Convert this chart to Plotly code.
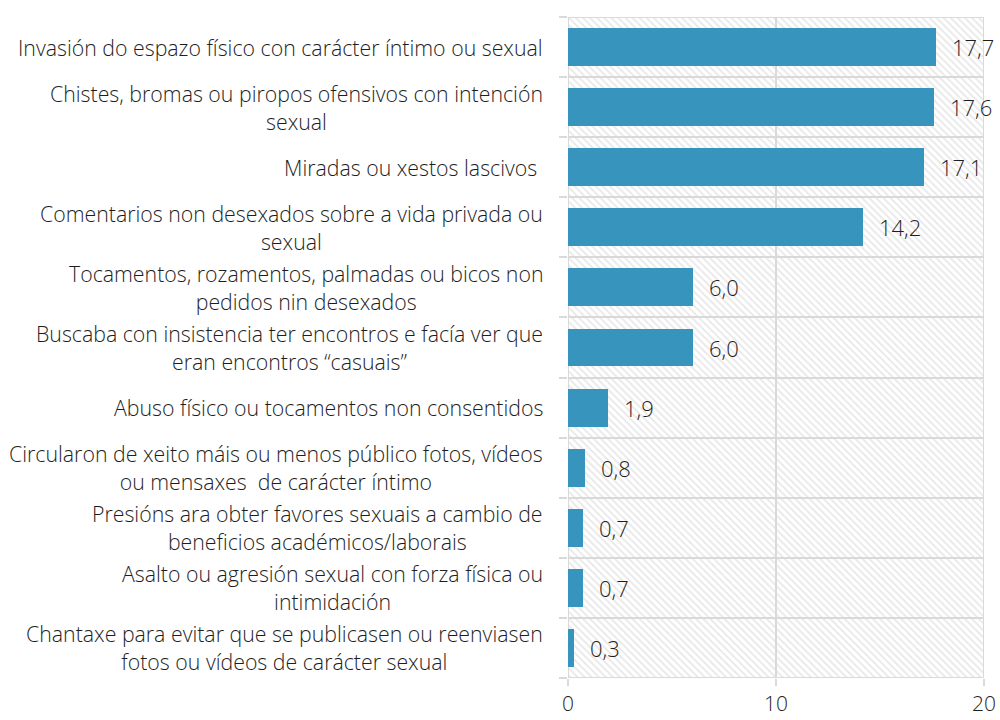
import plotly.graph_objects as go

categories = [
    "Invasión do espazo físico con carácter íntimo ou sexual",
    "Chistes, bromas ou piropos ofensivos con intención<br>sexual",
    "Miradas ou xestos lascivos ",
    "Comentarios non desexados sobre a vida privada ou<br>sexual",
    "Tocamentos, rozamentos, palmadas ou bicos non<br>pedidos nin desexados",
    "Buscaba con insistencia ter encontros e facía ver que<br>eran encontros “casuais”",
    "Abuso físico ou tocamentos non consentidos",
    "Circularon de xeito máis ou menos público fotos, vídeos<br>ou mensaxes  de carácter íntimo",
    "Presións ara obter favores sexuais a cambio de<br>beneficios académicos/laborais",
    "Asalto ou agresión sexual con forza física ou<br>intimidación",
    "Chantaxe para evitar que se publicasen ou reenviasen<br>fotos ou vídeos de carácter sexual",
]
values = [17.7, 17.6, 17.1, 14.2, 6.0, 6.0, 1.9, 0.8, 0.7, 0.7, 0.3]
value_labels = ["17,7", "17,6", "17,1", "14,2", "6,0", "6,0", "1,9", "0,8", "0,7", "0,7", "0,3"]
x_ticks = [0, 10, 20]

n = len(categories)
ypos = list(range(n))
grid_color = "#d9d9d9"
bar_color = "#3795bd"
font_fam = "'Open Sans', sans-serif"
text_color = "#1e1e1e"

fig = go.Figure()

# hatched background cells (grid formed by cell borders)
for i in range(len(x_ticks) - 1):
    lo, hi = x_ticks[i], x_ticks[i + 1]
    fig.add_trace(go.Bar(
        y=ypos, x=[hi - lo] * n, base=[lo] * n, orientation="h", width=1,
        marker=dict(color="white",
                    line=dict(color=grid_color, width=2),
                    pattern=dict(shape="\\", fgcolor="#d2d2d2", bgcolor="white",
                                 size=5, solidity=0.35)),
        hoverinfo="skip", showlegend=False,
    ))

fig.add_trace(go.Bar(
    y=ypos, x=values, orientation="h", width=0.63,
    marker=dict(color=bar_color, line=dict(width=0)),
    showlegend=False,
))

annotations = []
for i, (v, t) in enumerate(zip(values, value_labels)):
    annotations.append(dict(x=v, y=i, xref="x", yref="y", text=t, showarrow=False,
                            xanchor="left", yanchor="middle", xshift=14,
                            font=dict(size=22, color=text_color, family=font_fam, weight=300)))
for i, c in enumerate(categories):
    annotations.append(dict(x=-0.055, y=i, xref="paper", yref="y", text=c, showarrow=False,
                            xanchor="right", yanchor="middle", align="center",
                            font=dict(size=21.3, color=text_color, family=font_fam, weight=300)))

fig.update_layout(
    width=1000, height=720,
    margin=dict(l=568, r=16, t=17, b=42),
    barmode="overlay", bargap=0,
    plot_bgcolor="white", paper_bgcolor="white",
    separators=",.",
    annotations=annotations,
    xaxis=dict(range=[0, 20], tickvals=x_ticks, showgrid=False, zeroline=False,
               ticks="outside", ticklen=7, tickcolor=grid_color, tickwidth=2,
               ticklabelstandoff=0,
               tickfont=dict(size=21, color=text_color, family=font_fam, weight=300),
               showline=False, fixedrange=True, automargin=False),
    yaxis=dict(range=[n - 0.5, -0.5], tickvals=ypos, showticklabels=False,
               showgrid=False, zeroline=False, ticks="",
               minor=dict(tickvals=[k - 0.5 for k in range(n + 1)], ticks="outside",
                          ticklen=8, tickcolor=grid_color, tickwidth=2, showgrid=False),
               showline=False, fixedrange=True, automargin=False),
)

fig.write_html("out.html", config={"displayModeBar": False},
               post_script="document.body.style.margin='0';document.body.style.overflow='hidden';")
